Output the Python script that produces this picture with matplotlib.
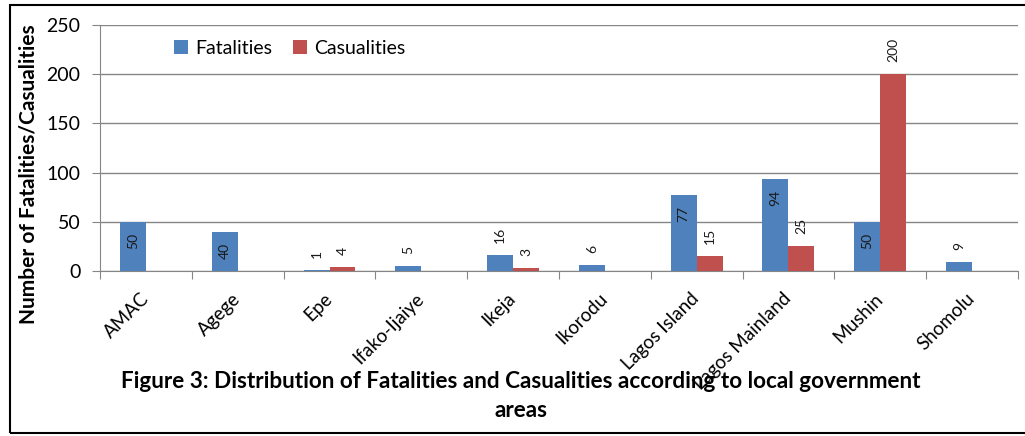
import numpy as np
import matplotlib
matplotlib.use("Agg")
import matplotlib.pyplot as plt
from matplotlib.patches import Rectangle

plt.rcParams['font.family'] = ['Lato', 'DejaVu Sans']

areas = ['AMAC', 'Agege', 'Epe', 'Ifako-Ijaiye', 'Ikeja', 'Ikorodu',
         'Lagos Island', 'Lagos Mainland', 'Mushin', 'Shomolu']
fatalities = [50, 40, 1, 5, 16, 6, 77, 94, 50, 9]
casualities = [0, 0, 4, 0, 3, 0, 15, 25, 200, 0]
yticks = [0, 50, 100, 150, 200, 250]

blue = '#4F81BD'
red = '#C0504D'
grid = '#868686'

fig = plt.figure(figsize=(10.25, 4.36), dpi=100)
ax = fig.add_axes([0.0976, 0.3784, 0.8955, 0.5643])

x = np.arange(len(areas))
w = 0.283
ax.bar(x - w, fatalities, w, align='edge', color=blue, label='Fatalities', zorder=3)
ax.bar(x, casualities, w, align='edge', color=red, label='Casualities', zorder=3)

# value labels, rotated like the spreadsheet export
for xi, v in zip(x, fatalities):
    if v >= 40:
        ax.annotate(str(v), (xi - w / 2, v), xytext=(0, -8), textcoords='offset points',
                    rotation=90, ha='center', va='top', fontsize=10, color='#1a1a1a', zorder=4)
    else:
        ax.annotate(str(v), (xi - w / 2, v), xytext=(0, 9), textcoords='offset points',
                    rotation=90, ha='center', va='bottom', fontsize=10, color='#1a1a1a', zorder=4)
for xi, v in zip(x, casualities):
    if v > 0:
        ax.annotate(str(v), (xi + w / 2, v), xytext=(0, 9), textcoords='offset points',
                    rotation=90, ha='center', va='bottom', fontsize=10, color='#1a1a1a', zorder=4)

ax.set_xlim(-0.5, len(areas) - 0.5)
ax.set_ylim(0, 250)
ax.set_yticks(yticks)
ax.tick_params(axis='y', labelsize=14, length=6, color=grid, pad=8)
ax.yaxis.grid(True, color=grid, linewidth=1, zorder=0)

ax.set_xticks(np.arange(len(areas) + 1) - 0.5)
ax.set_xticklabels([])
ax.tick_params(axis='x', length=6, color=grid)
ax.set_xticks(x, minor=True)
ax.set_xticklabels(areas, minor=True, rotation=45, ha='right', va='center',
                   rotation_mode='anchor', fontsize=13.5)
ax.tick_params(axis='x', which='minor', length=0, pad=18)

for s in ['top', 'right']:
    ax.spines[s].set_visible(False)
for s in ['left', 'bottom']:
    ax.spines[s].set_color(grid)

fig.text(29 / 1025, 1 - 174 / 436, 'Number of Fatalities/Casualities', rotation=90,
         ha='center', va='center', fontsize=15, fontweight='bold')

ax.legend(loc='upper left', bbox_to_anchor=(0.062, 1.01), ncol=2, frameon=False, fontsize=14,
          handlelength=0.7, handleheight=0.7, handletextpad=0.35, columnspacing=1.1)

fig.text(0.508, 1 - 396 / 436, 'Figure 3: Distribution of Fatalities and Casualities according to local government\nareas',
         ha='center', va='center', fontsize=16.2, fontweight='bold', linespacing=1.45)

fig.patches.append(Rectangle((10 / 1025, 3 / 436), 1.2, 1 - 8 / 436, transform=fig.transFigure,
                             fill=False, edgecolor='black', linewidth=1.5))

fig.savefig('out.png', dpi=100)
